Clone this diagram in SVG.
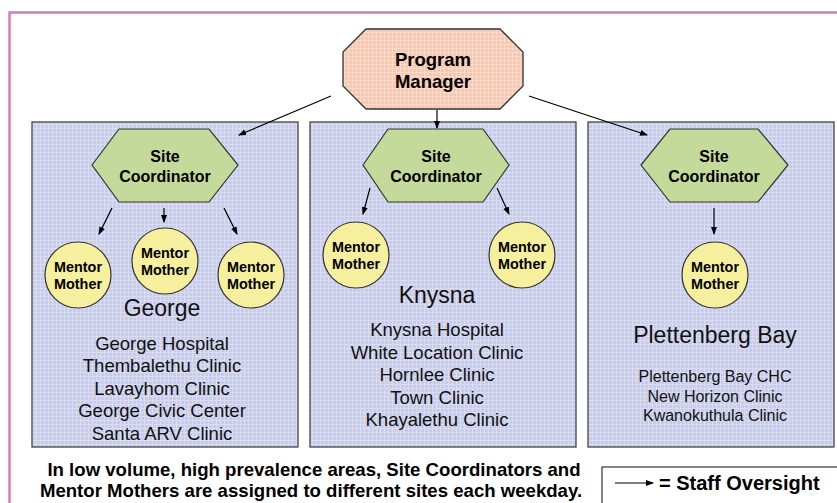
<svg xmlns="http://www.w3.org/2000/svg" width="837" height="503" viewBox="0 0 837 503">
<defs>
<pattern id="gridBlue" width="4" height="4" patternUnits="userSpaceOnUse">
<rect width="4" height="4" fill="#C8CCEA"/>
<path d="M0 0.5H4M0.5 0V4" stroke="#DADDF2" stroke-width="1"/>
</pattern>
<pattern id="gridSalmon" width="4" height="4" patternUnits="userSpaceOnUse">
<rect width="4" height="4" fill="#F9C6AE"/>
<path d="M0 0.5H4M0.5 0V4" stroke="#FBDACB" stroke-width="1"/>
</pattern>
<marker id="arr" markerWidth="8" markerHeight="8" refX="7" refY="4" orient="auto" markerUnits="userSpaceOnUse">
<path d="M0,1 L8,4 L0,7 Z" fill="#000"/>
</marker>
</defs>
<style>
.box{fill:url(#gridBlue);stroke:#444;stroke-width:1.3}
.hex{fill:#C3DA9B;stroke:#333;stroke-width:1.2}
.circ{fill:#F5EF9E;stroke:#333;stroke-width:1.2}
.oct{fill:url(#gridSalmon);stroke:#333;stroke-width:1.3}
.b{font-family:"Liberation Sans",Arial,sans-serif;font-weight:bold;fill:#000;text-anchor:middle}
.r{font-family:"Liberation Sans",Arial,sans-serif;fill:#111;text-anchor:middle}
.conn line{stroke:#000;stroke-width:1.2;marker-end:url(#arr)}
.sc{font-size:16px}
.mm{font-size:14.4px}
.big{font-size:23px}
.lst{font-size:18.5px}
</style>
<rect width="837" height="503" fill="#fff"/>
<path d="M9.5 503V12.5H837" fill="none" stroke="#D47CB8" stroke-width="2.5"/>

<g id="box-george"><rect class="box" x="32" y="122" width="266" height="325"/></g>
<g id="box-knysna"><rect class="box" x="310" y="122" width="266" height="325"/></g>
<g id="box-plett"><rect class="box" x="588" y="122" width="246" height="325"/></g>

<g id="program-manager">
<polygon class="oct" points="366,29 500,29 523,52 523,86 500,109 366,109 343,86 343,52"/>
<text class="b" x="433" y="66" font-size="18.5">Program</text>
<text class="b" x="433" y="88" font-size="18.5">Manager</text>
</g>

<g id="sc-george">
<polygon class="hex" points="92,165 119,129 209,129 238,165 209,202 119,202"/>
<text class="b sc" x="165" y="162">Site</text>
<text class="b sc" x="165" y="182">Coordinator</text>
</g>
<g id="sc-knysna">
<polygon class="hex" points="363,165 388,129 483,129 509,165 483,202 388,202"/>
<text class="b sc" x="436" y="162">Site</text>
<text class="b sc" x="436" y="182">Coordinator</text>
</g>
<g id="sc-plett">
<polygon class="hex" points="641,165 670,129 758,129 788,165 758,202 670,202"/>
<text class="b sc" x="714" y="162">Site</text>
<text class="b sc" x="714" y="182">Coordinator</text>
</g>

<g id="mm-george-1"><circle class="circ" cx="78" cy="275" r="33"/>
<text class="b mm" x="78" y="272">Mentor</text><text class="b mm" x="78" y="289">Mother</text></g>
<g id="mm-george-2"><circle class="circ" cx="165" cy="261" r="33"/>
<text class="b mm" x="165" y="258">Mentor</text><text class="b mm" x="165" y="275">Mother</text></g>
<g id="mm-george-3"><circle class="circ" cx="251" cy="275" r="33"/>
<text class="b mm" x="251" y="272">Mentor</text><text class="b mm" x="251" y="289">Mother</text></g>
<g id="mm-knysna-1"><circle class="circ" cx="356" cy="255" r="33"/>
<text class="b mm" x="356" y="252">Mentor</text><text class="b mm" x="356" y="269">Mother</text></g>
<g id="mm-knysna-2"><circle class="circ" cx="522" cy="255" r="33"/>
<text class="b mm" x="522" y="252">Mentor</text><text class="b mm" x="522" y="269">Mother</text></g>
<g id="mm-plett"><circle class="circ" cx="715" cy="275" r="33"/>
<text class="b mm" x="715" y="272">Mentor</text><text class="b mm" x="715" y="289">Mother</text></g>

<g id="site-george">
<text class="r big" x="162" y="316">George</text>
<text class="r lst" x="162" y="350">George Hospital</text>
<text class="r lst" x="162" y="372">Thembalethu Clinic</text>
<text class="r lst" x="162" y="395">Lavayhom Clinic</text>
<text class="r lst" x="162" y="417">George Civic Center</text>
<text class="r lst" x="162" y="440">Santa ARV Clinic</text>
</g>
<g id="site-knysna">
<text class="r big" x="437" y="303">Knysna</text>
<text class="r lst" x="437" y="336">Knysna Hospital</text>
<text class="r lst" x="437" y="359">White Location Clinic</text>
<text class="r lst" x="437" y="381">Hornlee Clinic</text>
<text class="r lst" x="437" y="404">Town Clinic</text>
<text class="r lst" x="437" y="426">Khayalethu Clinic</text>
</g>
<g id="site-plett">
<text class="r big" x="715" y="343">Plettenberg Bay</text>
<text class="r" x="715" y="382" font-size="16">Plettenberg Bay CHC</text>
<text class="r" x="715" y="402" font-size="16">New Horizon Clinic</text>
<text class="r" x="715" y="421" font-size="16">Kwanokuthula Clinic</text>
</g>

<g id="connectors" class="conn">
<line x1="331" y1="96" x2="239" y2="135"/>
<line x1="437" y1="110" x2="437" y2="128"/>
<line x1="529" y1="96" x2="647" y2="135"/>
<line x1="112" y1="208" x2="99" y2="234"/>
<line x1="164" y1="208" x2="164" y2="222"/>
<line x1="224" y1="208" x2="237" y2="234"/>
<line x1="370" y1="188" x2="363" y2="214"/>
<line x1="497" y1="188" x2="509" y2="214"/>
<line x1="714" y1="208" x2="714" y2="234"/>
</g>

<g id="note">
<text class="b" x="314" y="476" font-size="18.6">In low volume, high prevalence areas, Site Coordinators and</text>
<text class="b" x="311" y="497" font-size="18.6">Mentor Mothers are assigned to different sites each weekday.</text>
</g>

<g id="legend">
<rect x="602" y="467" width="240" height="40" fill="#fff" stroke="#333" stroke-width="1.2"/>
<line x1="615" y1="483" x2="653" y2="483" stroke="#000" stroke-width="1.2" marker-end="url(#arr)"/>
<text x="659" y="490" font-family="Liberation Sans,Arial,sans-serif" font-weight="bold" font-size="20" fill="#000">= Staff Oversight</text>
</g>
</svg>
